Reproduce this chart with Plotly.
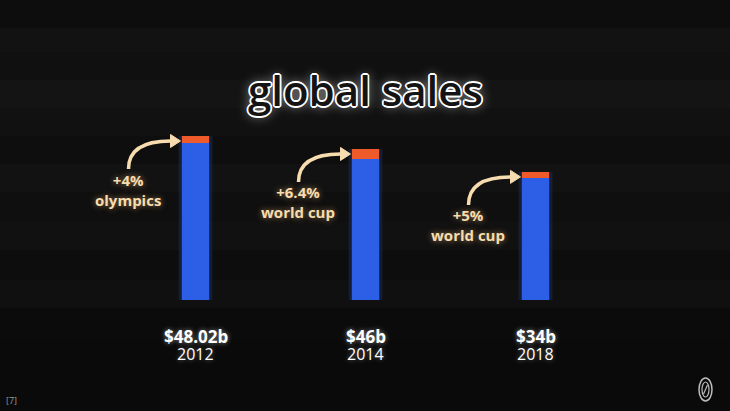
import plotly.graph_objects as go

# ---- data ----
years = ["2012", "2014", "2018"]
sales_labels = ["$48.02b", "$46b", "$34b"]
bar_heights = [48.0, 44.2, 37.5]          # drawn bar heights (chart units)
boost_pct = [4.0, 6.4, 5.0]               # orange top share, %
boost_text = ["+4%<br>olympics", "+6.4%<br>world cup", "+5%<br>world cup"]

BLUE = "#2d5fe6"
ORANGE = "#ef5a2b"
CREAM = "#f6dcae"

W, H = 730, 411
x_pos = list(range(len(years)))
base_part = [h * (1 - p / 100) for h, p in zip(bar_heights, boost_pct)]
top_part = [h * p / 100 for h, p in zip(bar_heights, boost_pct)]

# axis scales (units per pixel)
XU = 1 / 170.0
YU = 48.0 / 164.0
x_range = [-195.5 * XU, (W - 195.5) * XU]
y_range = [-(H - 300) * YU, 300 * YU]

fig = go.Figure()

# soft glow behind bars
for w, op in [(0.21, 0.07), (0.19, 0.12), (0.175, 0.2)]:
    fig.add_trace(go.Bar(x=x_pos, y=bar_heights, width=w, marker=dict(color=BLUE, line_width=0),
                         opacity=op, hoverinfo="skip", showlegend=False))

fig.add_trace(go.Bar(x=x_pos, y=base_part, width=0.159,
                     marker=dict(color=BLUE, line_width=0), showlegend=False))
fig.add_trace(go.Bar(x=x_pos, y=top_part, base=base_part, width=0.159,
                     marker=dict(color=ORANGE, line_width=0), showlegend=False))

shapes = []
# background planks
plank_rows = [(0, 28, "#0d0d0d"), (28, 52, "#121212"), (52, 80, "#101010"), (80, 108, "#141414"),
              (108, 136, "#111111"), (136, 164, "#0e0e0e"), (164, 192, "#121212"), (192, 222, "#0f0f0f"),
              (222, 250, "#111111"), (250, 280, "#0d0d0d"), (280, 308, "#101010"), (308, 340, "#0b0b0b"),
              (340, 411, "#0a0a0a")]
for y0, y1, c in plank_rows:
    shapes.append(dict(type="rect", xref="paper", yref="paper", x0=0, x1=1,
                       y0=1 - y1 / H, y1=1 - y0 / H, fillcolor=c, line_width=0, layer="below"))

annotations = []
for i, (h, txt) in enumerate(zip(bar_heights, boost_text)):
    # curved arrow
    sx, sy = i - 67 * XU, h - 33 * YU
    ex, ey = i - 25 * XU, h - 5 * YU
    cx, cy = sx, ey
    shapes.append(dict(type="path", xref="x", yref="y",
                       path=f"M {sx},{sy} Q {cx},{cy} {ex},{ey}",
                       line=dict(color=CREAM, width=3.5), layer="above"))
    tx = i - 15 * XU
    shapes.append(dict(type="path", xref="x", yref="y",
                       path=f"M {ex},{ey + 6.5 * YU} L {tx},{ey} L {ex},{ey - 6.5 * YU} Z",
                       fillcolor=CREAM, line=dict(color=CREAM, width=1), layer="above"))
    annotations.append(dict(x=i - 68 * XU, y=h - 53.5 * YU, xref="x", yref="y", text=txt,
                            showarrow=False, align="center", yanchor="middle",
                            font=dict(family="Open Sans", size=15, color=CREAM, weight="bold",
                                      shadow="0 0 6px rgba(246,190,120,0.6)")))
    # bottom labels
    annotations.append(dict(x=i, y=-36.5 * YU, xref="x", yref="y", text=sales_labels[i],
                            showarrow=False, yanchor="middle",
                            font=dict(family="Open Sans", size=17, color="white", weight="bold",
                                      shadow="0 0 5px rgba(255,255,255,0.5)")))
    annotations.append(dict(x=i, y=-54 * YU, xref="x", yref="y", text=years[i],
                            showarrow=False, yanchor="middle",
                            font=dict(family="Open Sans", size=16, color="white",
                                      shadow="0 0 5px rgba(255,255,255,0.4)")))

# title
annotations.append(dict(x=0.5, y=1 - 89 / H, xref="paper", yref="paper", text="global sales",
                        showarrow=False, yanchor="middle", xanchor="center",
                        font=dict(family="Open Sans", size=42, color="#141414", weight=600,
                                  shadow="1.7px 0 0 #fff, -1.7px 0 0 #fff, 0 1.7px 0 #fff, 0 -1.7px 0 #fff, "
                                         "1.2px 1.2px 0 #fff, -1.2px -1.2px 0 #fff, 1.2px -1.2px 0 #fff, "
                                         "-1.2px 1.2px 0 #fff, 0 0 12px rgba(255,255,255,0.7)")))
# footer
annotations.append(dict(x=12 / W, y=1 - 400 / H, xref="paper", yref="paper", text="[7]",
                        showarrow=False, yanchor="middle", xanchor="center",
                        font=dict(family="Open Sans", size=9, color="#9a9a9a")))

# logo (oval zero with slash)
shapes.append(dict(type="circle", xref="paper", yref="paper", x0=699 / W, x1=712 / W,
                   y0=1 - 401 / H, y1=1 - 378 / H, line=dict(color="#bdbdbd", width=1.5)))
shapes.append(dict(type="circle", xref="paper", yref="paper", x0=702 / W, x1=709 / W,
                   y0=1 - 397 / H, y1=1 - 382 / H, line=dict(color="#bdbdbd", width=1.2)))
shapes.append(dict(type="line", xref="paper", yref="paper", x0=703.5 / W, x1=707.5 / W,
                   y0=1 - 394 / H, y1=1 - 385 / H, line=dict(color="#bdbdbd", width=1.2)))

fig.update_layout(
    width=W, height=H, margin=dict(l=0, r=0, t=0, b=0),
    paper_bgcolor="#0e0e0e", plot_bgcolor="rgba(0,0,0,0)",
    barmode="overlay", bargap=0,
    xaxis=dict(range=x_range, visible=False, fixedrange=True),
    yaxis=dict(range=y_range, visible=False, fixedrange=True),
    shapes=shapes, annotations=annotations, showlegend=False,
)

fig.write_html("out.html", config={"displayModeBar": False},
               post_script="document.body.style.margin='0';document.body.style.background='#0e0e0e';"
                           "document.body.style.overflow='hidden';")
